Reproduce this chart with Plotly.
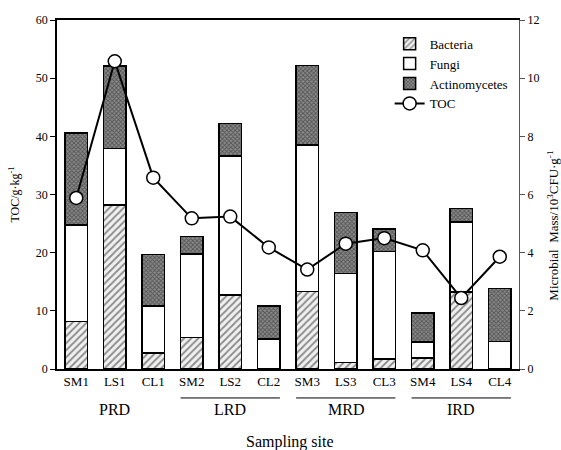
import plotly.graph_objects as go

sites = ["SM1", "LS1", "CL1", "SM2", "LS2", "CL2", "SM3", "LS3", "CL3", "SM4", "LS4", "CL4"]
bacteria = [1.64, 5.64, 0.55, 1.09, 2.54, 0.0, 2.66, 0.22, 0.34, 0.38, 2.64, 0.0]
fungi = [3.32, 1.94, 1.62, 2.87, 4.79, 1.03, 5.05, 3.06, 3.70, 0.55, 2.42, 0.95]
actinomycetes = [3.16, 2.84, 1.77, 0.60, 1.11, 1.13, 2.73, 2.10, 0.78, 1.00, 0.46, 1.82]
toc = [29.4, 52.9, 32.9, 25.9, 26.2, 20.9, 17.1, 21.55, 22.5, 20.4, 12.2, 19.3]
groups = ["PRD", "LRD", "MRD", "IRD"]
group_start = [0, 3, 6, 9]
group_underline = [False, True, True, True]

FONT = "Liberation Serif"
idx = list(range(len(sites)))

fig = go.Figure()
line = dict(color="black", width=1.5)
fig.add_trace(go.Bar(
    x=idx, y=bacteria, name="Bacteria", yaxis="y", width=0.58,
    marker=dict(color="white", line=line,
                pattern=dict(shape="/", fgcolor="#222222", bgcolor="#f0f0f0", size=5, solidity=0.35)),
))
fig.add_trace(go.Bar(
    x=idx, y=fungi, name="Fungi", yaxis="y", width=0.58,
    marker=dict(color="white", line=line),
))
fig.add_trace(go.Bar(
    x=idx, y=actinomycetes, name="Actinomycetes", yaxis="y", width=0.58,
    marker=dict(color="white", line=line,
                pattern=dict(shape="x", fgcolor="#1a1a1a", bgcolor="#8c8c8c", size=3, solidity=0.5)),
))
fig.add_trace(go.Scatter(
    x=idx, y=toc, name="TOC", yaxis="y2", mode="lines+markers",
    line=dict(color="black", width=2),
    marker=dict(symbol="circle", size=13, color="white", line=dict(color="black", width=1.5)),
))

annotations = []
shapes = []
for g, s, u in zip(groups, group_start, group_underline):
    annotations.append(dict(x=s + 1, y=-0.117, xref="x", yref="paper", text=g, showarrow=False,
                            font=dict(family=FONT, size=16, color="black"), yanchor="middle"))
    if u:
        shapes.append(dict(type="line", xref="x", yref="paper", x0=s - 0.29, x1=s + 2.29,
                           y0=-0.083, y1=-0.083, line=dict(color="black", width=1)))
annotations.append(dict(x=0.505, y=-0.209, xref="paper", yref="paper", text="Sampling site",
                        showarrow=False, font=dict(family=FONT, size=16, color="black"), yanchor="middle"))
annotations.append(dict(x=1.073, y=0.41, xref="paper", yref="paper",
                        text="Microbial  Mass/10<sup>3</sup>CFU·g<sup>-1</sup>", textangle=-90,
                        showarrow=False, font=dict(family=FONT, size=13, color="black"),
                        xanchor="center", yanchor="middle"))

fig.update_layout(
    width=561, height=450,
    margin=dict(l=57, r=42, t=20, b=81),
    paper_bgcolor="white", plot_bgcolor="white",
    barmode="stack", bargap=0.42,
    showlegend=True,
    legend=dict(x=0.72, y=0.975, xanchor="left", yanchor="top", traceorder="normal",
                font=dict(family=FONT, size=13, color="black"), bgcolor="rgba(0,0,0,0)",
                tracegroupgap=0, itemwidth=30),
    font=dict(family=FONT, color="black"),
    xaxis=dict(tickmode="array", tickvals=idx, ticktext=sites, range=[-0.5, 11.5],
               showline=True, linecolor="black", linewidth=1.5, mirror=True,
               ticks="", tickfont=dict(family=FONT, size=13, color="black"), showgrid=False),
    yaxis=dict(side="right", range=[0, 12], dtick=2, showline=True, linecolor="#555555", linewidth=1,
               ticks="outside", ticklen=5, tickcolor="#555555", showgrid=False, zeroline=False,
               tickfont=dict(family=FONT, size=12, color="black")),
    yaxis2=dict(side="left", overlaying="y", range=[0, 60], dtick=10, showline=True,
                linecolor="black", linewidth=1.5, ticks="outside", ticklen=5, tickcolor="black",
                showgrid=False, zeroline=False, tickfont=dict(family=FONT, size=12, color="black"),
                title=dict(text="TOC/g·kg<sup>-1</sup>", font=dict(family=FONT, size=12, color="black"),
                           standoff=14)),
    annotations=annotations,
    shapes=shapes,
)

fig.write_html("out.html", config={"displayModeBar": False},
               post_script="document.body.style.margin='0';document.body.style.overflow='hidden';")
